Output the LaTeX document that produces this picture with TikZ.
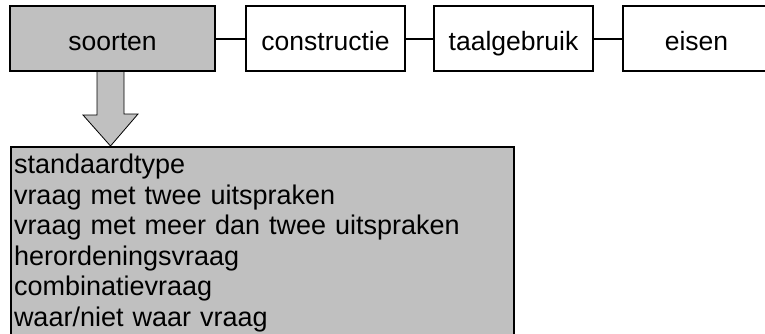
\documentclass[tikz,border=0pt]{standalone}
\usepackage{fontspec}
\setmainfont{Liberation Sans}
\usetikzlibrary{calc}
\definecolor{boxgray}{HTML}{C0C0C0}

\begin{document}
\begin{tikzpicture}[x=1pt,y=-1pt,line width=2pt,
        box/.style={draw=black,fill=white,minimum height=65pt,inner sep=0pt,
            text height=24pt,text depth=1pt,font=\fontsize{26.5}{31}\selectfont},
        link/.style={draw=black,line width=2pt},
        arrowline/.style={draw=black,fill=boxgray,line width=0.8pt,line join=miter}]
            \useasboundingbox (0,0) rectangle (765,333);
            \clip (0,0) rectangle (765,333);

            % X % 10..215   246..405   434..593   623..(past the edge)
            \node [box,fill=boxgray,minimum width=205pt] (soorten)     at (112.5,38.5) {soorten};
            \node [box,minimum width=159pt]              (constructie) at (325.5,38.5) {constructie};
            \node [box,minimum width=159pt]              (taalgebruik) at (513.5,38.5) {taalgebruik};
            \node [box,minimum width=154pt]              (eisen)       at (700,38.5) {\hspace*{-7pt}eisen};

            \draw [link] (soorten) -- (constructie);
            \draw [link] (constructie) -- (taalgebruik);
            \draw [link] (taalgebruik) -- (eisen);

            \node [draw=black,fill=boxgray,anchor=north west,minimum width=503pt,
                   text width=497pt,inner xsep=3pt,inner ysep=7pt,align=left,
                   font=\fontsize{27}{30.5}\selectfont] (soortenlijst) at (10,146)
                  {standaardtype\\
                   vraag met twee uitspraken\\
                   vraag met meer dan twee uitspraken\\
                   herordeningsvraag\\
                   combinatievraag\\
                   waar/niet waar vraag};

            % big arrow from soorten down to the list
            \coordinate (stem) at ([xshift=-2pt]soorten.south);
            \draw [arrowline] ([xshift=-13.5pt]stem) -- ++(0,43) -- ++(-14,0)
                  -- (stem |- soortenlijst.north) -- ([xshift=27.5pt]stem |- 0,114)
                  -- ++(-14,0) -- ([xshift=13.5pt]stem);
        \end{tikzpicture}
\end{document}
